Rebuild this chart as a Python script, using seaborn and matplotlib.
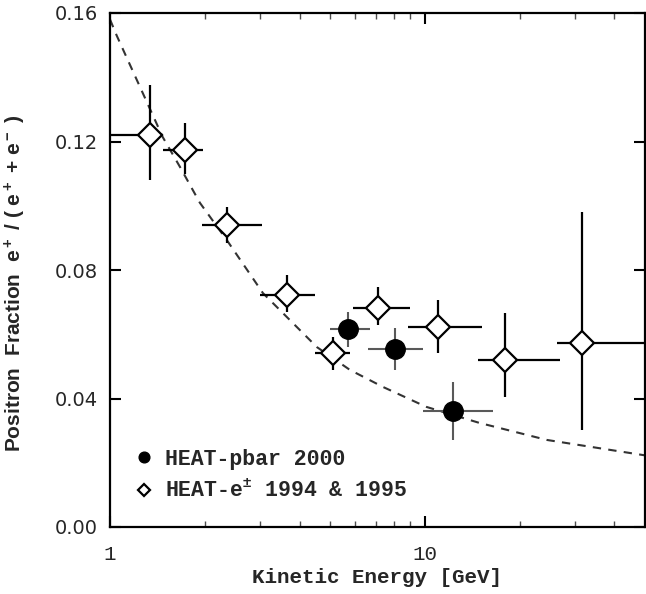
import numpy as np
import pandas as pd
import seaborn as sns
import matplotlib.pyplot as plt
from matplotlib.ticker import FixedLocator, FixedFormatter, LogLocator, NullFormatter, NullLocator

# HEAT-e+- 1994 & 1995 (open diamonds)
e_energy = [1.34, 1.73, 2.35, 3.65, 5.1, 7.1, 11.0, 17.9, 31.5]
e_frac = [0.122, 0.1174, 0.094, 0.0722, 0.0542, 0.0682, 0.0623, 0.052, 0.0573]
e_elo = [1.0, 1.47, 1.96, 2.99, 4.48, 5.9, 8.83, 14.7, 26.2]
e_ehi = [1.42, 1.97, 3.04, 4.48, 5.78, 8.96, 15.2, 26.8, 60.0]
e_flo = [0.108, 0.110, 0.0884, 0.067, 0.0489, 0.0629, 0.0542, 0.0405, 0.0302]
e_fhi = [0.1376, 0.1258, 0.0996, 0.0784, 0.0591, 0.0747, 0.0707, 0.0666, 0.098]

# HEAT-pbar 2000 (filled circles)
p_energy = [5.7, 8.03, 12.3]
p_frac = [0.0616, 0.0554, 0.0361]
p_elo = [4.99, 6.59, 9.86]
p_ehi = [6.69, 9.86, 16.4]
p_flo = [0.056, 0.0489, 0.0271]
p_fhi = [0.0669, 0.0619, 0.0451]

# secondary production model curve
model_energy = [1.0, 1.05, 1.245, 1.47, 1.67, 1.93, 2.35, 3.06, 3.54, 4.54, 5.78, 7.36, 10.1, 14.9, 24.4, 50.0]
model_frac = [0.158, 0.153, 0.137, 0.1214, 0.112, 0.1009, 0.0893, 0.0728, 0.0666, 0.056, 0.0489, 0.0436, 0.0374, 0.0324, 0.0271, 0.0223]

sns.set_style("ticks")
plt.rcParams["font.family"] = ["DejaVu Sans"]
plt.rcParams["mathtext.fontset"] = "custom"
plt.rcParams["mathtext.rm"] = "Liberation Sans:bold"
plt.rcParams["mathtext.default"] = "rm"

fig = plt.figure(figsize=(6.46, 5.94), dpi=100)
ax = fig.add_axes([110 / 646, 67 / 594, 535 / 646, 514 / 594])

model = pd.DataFrame({"energy": model_energy, "frac": model_frac})
sns.lineplot(data=model, x="energy", y="frac", ax=ax, color="0.2", lw=1.5,
             linestyle=(0, (4, 3.5)), zorder=1)

# error bars
e_xerr = [np.array(e_energy) - np.array(e_elo), np.array(e_ehi) - np.array(e_energy)]
e_yerr = [np.array(e_frac) - np.array(e_flo), np.array(e_fhi) - np.array(e_frac)]
ax.errorbar(e_energy, e_frac, xerr=e_xerr, yerr=e_yerr, fmt="none",
            ecolor="black", elinewidth=1.6, capsize=0, zorder=2)
p_xerr = [np.array(p_energy) - np.array(p_elo), np.array(p_ehi) - np.array(p_energy)]
p_yerr = [np.array(p_frac) - np.array(p_flo), np.array(p_fhi) - np.array(p_frac)]
ax.errorbar(p_energy, p_frac, xerr=p_xerr, yerr=p_yerr, fmt="none",
            ecolor="0.35", elinewidth=1.5, capsize=0, zorder=2)

ax.plot(e_energy, e_frac, linestyle="none", marker="D", ms=12, mfc="white",
        mec="black", mew=1.6, zorder=3, label="HEAT-e$^{\\pm}$ 1994 & 1995")
ax.plot(p_energy, p_frac, linestyle="none", marker="o", ms=14, mfc="black",
        mec="black", zorder=3, label="HEAT-pbar 2000")

ax.set_xscale("log")
ax.set_xlim(1, 50)
ax.set_ylim(0, 0.16)

ax.xaxis.set_major_locator(FixedLocator([1, 10]))
ax.xaxis.set_major_formatter(FixedFormatter(["1", "10"]))
ax.xaxis.set_minor_locator(LogLocator(base=10, subs=np.arange(2, 10)))
ax.xaxis.set_minor_formatter(NullFormatter())
ax.set_yticks([0, 0.04, 0.08, 0.12, 0.16])
ax.set_yticklabels(["0.00", "0.04", "0.08", "0.12", "0.16"])
ax.yaxis.set_minor_locator(NullLocator())

ax.tick_params(which="major", direction="in", length=8, width=1.5,
               top=True, right=True, labelsize=14, color="black")
ax.tick_params(which="minor", direction="in", length=4, width=1.0,
               top=True, right=True, color="0.3")
ax.tick_params(axis="x", which="major", pad=13)
ax.tick_params(axis="y", which="major", pad=9)
for lab in ax.get_xticklabels():
    lab.set_family("Liberation Mono")
    lab.set_fontsize(15)

for s in ax.spines.values():
    s.set_linewidth(1.6)
    s.set_color("black")

ax.set_xlabel("Kinetic Energy [GeV]", family="Liberation Mono", fontsize=15,
              fontweight="bold", labelpad=3)
ax.set_ylabel("Positron  Fraction  e$^+$ / ( e$^+$ + e$^-$ )", family="Liberation Sans",
              fontsize=15, fontweight="bold")
ax.yaxis.set_label_coords(-0.153, 0.475)

handles, labels = ax.get_legend_handles_labels()
leg = ax.legend(handles[::-1], labels[::-1], loc="lower left", bbox_to_anchor=(0.012, 0.01),
                frameon=False, markerscale=0.55, handlelength=0.8, handletextpad=0.55,
                labelspacing=0.5, prop={"family": "Liberation Mono", "size": 15.5, "weight": "bold"})

fig.savefig("out.png", dpi=100)
